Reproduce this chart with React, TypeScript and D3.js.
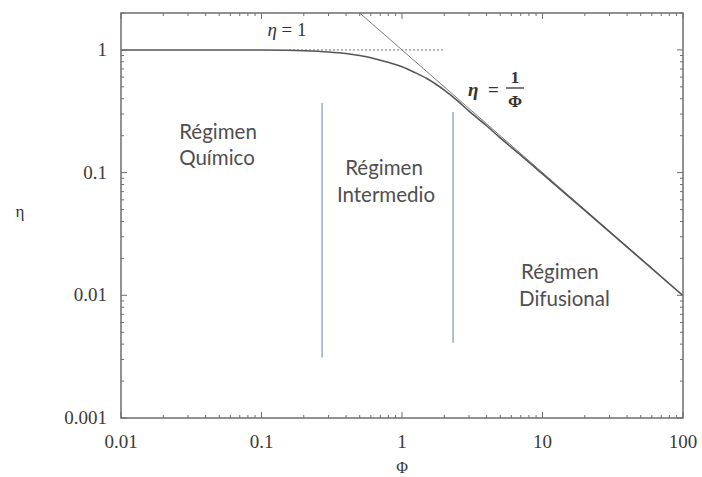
import React from "react";
import * as d3 from "d3";

// Curve η(Φ)
const curvePhi = [0.01, 0.05, 0.1, 0.15, 0.2, 0.3, 0.4, 0.5, 0.6, 0.7, 0.85, 1, 1.25, 1.5, 2, 2.5, 3, 4, 5, 7, 10, 20, 50, 100];
const curveEta = [1, 1, 0.998, 0.993, 0.985, 0.963, 0.935, 0.9, 0.865, 0.825, 0.775, 0.73, 0.65, 0.585, 0.47, 0.383, 0.317, 0.241, 0.192, 0.139, 0.0975, 0.0493, 0.0198, 0.00992];

// asymptote η = 1/Φ
const asymPhi = [0.5, 100];
const asymEta = [2, 0.01];

// dashed η = 1
const unityPhi = [0.157, 2.02];
const unityEta = [1, 1];

// regime boundaries
const boundPhi = [0.27, 2.31];
const boundTop = [0.37, 0.312];
const boundBottom = [0.0031, 0.0041];

const xTicks = [0.01, 0.1, 1, 10, 100];
const xTickLabels = ["0.01", "0.1", "1", "10", "100"];
const yTicks = [0.001, 0.01, 0.1, 1];
const yTickLabels = ["0.001", "0.01", "0.1", "1"];

const W = 702, H = 477;
const L = 121, R = 683, T = 13, B = 418;

export default function App() {
  const x = d3.scaleLog().domain([0.01, 100]).range([L, R]);
  const y = d3.scaleLog().domain([0.001, 2]).range([B, T]);

  const mk = () => d3.line<[number, number]>().x(d => x(d[0])).y(d => y(d[1]));
  const curve = mk().curve(d3.curveMonotoneX)(curvePhi.map((p, i) => [p, curveEta[i]]) as [number, number][]) || "";
  const asym = mk()(asymPhi.map((p, i) => [p, asymEta[i]]) as [number, number][]) || "";
  const unity = mk()(unityPhi.map((p, i) => [p, unityEta[i]]) as [number, number][]) || "";

  // minor ticks
  const xMinor: number[] = [];
  for (let e = -2; e < 2; e++) for (let m = 2; m <= 9; m++) xMinor.push(m * Math.pow(10, e));
  const yMinor: number[] = [];
  for (let e = -3; e < 1; e++) for (let m = 2; m <= 9; m++) { const v = m * Math.pow(10, e); if (v <= 2) yMinor.push(v); }

  const axisColor = "#6e6e6e";
  const serif = "'Liberation Serif', 'DejaVu Serif', serif";
  const sans = "Lato, 'Open Sans', sans-serif";
  const textColor = "#4f4f4f";
  const fs = 20.5;

  return (
    <div style={{ position: "absolute", left: 0, top: 0 }}>
      <svg width={W} height={H} style={{ display: "block", background: "#fff" }}>
        <defs>
          <clipPath id="plot"><rect x={L} y={T} width={R - L} height={B - T} /></clipPath>
        </defs>
        {/* boundaries */}
        {boundPhi.map((p, i) => (
          <line key={"b" + i} x1={x(p)} x2={x(p)} y1={y(boundTop[i])} y2={y(boundBottom[i])} stroke="#8ea6c6" strokeWidth={1.4} />
        ))}
        <g clipPath="url(#plot)">
          <path d={asym} fill="none" stroke="#7a7a7a" strokeWidth={1} />
          <path d={unity} fill="none" stroke="#777" strokeWidth={1} strokeDasharray="2,2" />
          <path d={curve} fill="none" stroke="#555" strokeWidth={1.6} />
        </g>
        {/* frame */}
        <rect x={L} y={T} width={R - L} height={B - T} fill="none" stroke={axisColor} strokeWidth={1.5} />
        {/* x ticks */}
        {xTicks.map(v => (
          <g key={"xt" + v}>
            <line x1={x(v)} x2={x(v)} y1={B} y2={B - 6} stroke={axisColor} />
            <line x1={x(v)} x2={x(v)} y1={T} y2={T + 6} stroke={axisColor} />
          </g>
        ))}
        {xMinor.map(v => (
          <g key={"xm" + v}>
            <line x1={x(v)} x2={x(v)} y1={B} y2={B - 3} stroke={axisColor} />
            <line x1={x(v)} x2={x(v)} y1={T} y2={T + 3} stroke={axisColor} />
          </g>
        ))}
        {yTicks.map(v => (
          <g key={"yt" + v}>
            <line x1={L} x2={L + 6} y1={y(v)} y2={y(v)} stroke={axisColor} />
            <line x1={R} x2={R - 6} y1={y(v)} y2={y(v)} stroke={axisColor} />
          </g>
        ))}
        {yMinor.map(v => (
          <g key={"ym" + v}>
            <line x1={L} x2={L + 3} y1={y(v)} y2={y(v)} stroke={axisColor} />
            <line x1={R} x2={R - 3} y1={y(v)} y2={y(v)} stroke={axisColor} />
          </g>
        ))}
        {/* tick labels */}
        {xTicks.map((v, i) => (
          <text key={"xl" + v} x={x(v)} y={B + 30} textAnchor="middle" fontFamily={serif} fontSize={19} fill="#3a3a3a">{xTickLabels[i]}</text>
        ))}
        {yTicks.map((v, i) => (
          <text key={"yl" + v} x={L - 14} y={y(v) + 6} textAnchor="end" fontFamily={serif} fontSize={19} fill="#3a3a3a">{yTickLabels[i]}</text>
        ))}
        {/* axis titles */}
        <text x={x(1)} y={473} textAnchor="middle" fontFamily={serif} fontSize={16} fill="#333">Φ</text>
        <text x={20} y={217} textAnchor="middle" fontFamily={serif} fontSize={17} fill="#333">η</text>
        {/* annotations */}
        <text x={287} y={36} textAnchor="middle" fontFamily={serif} fontSize={19} fill="#333">
          <tspan fontStyle="italic">η</tspan> = 1
        </text>
        <text x={468} y={96} fontFamily={serif} fontSize={19} fill="#333" fontWeight="bold" fontStyle="italic">η</text>
        <text x={488} y={96} fontFamily={serif} fontSize={19} fill="#333" fontWeight="bold">=</text>
        <text x={515} y={83} textAnchor="middle" fontFamily={serif} fontSize={17} fill="#333" fontWeight="bold">1</text>
        <line x1={506} x2={524} y1={88} y2={88} stroke="#444" strokeWidth={1.4} />
        <text x={515} y={107} textAnchor="middle" fontFamily={serif} fontSize={17} fill="#333" fontWeight="bold">Φ</text>
        {/* regime labels */}
        <text x={218} y={139} textAnchor="middle" fontFamily={sans} fontSize={fs} fill={textColor}>Régimen</text>
        <text x={217} y={165} textAnchor="middle" fontFamily={sans} fontSize={fs} fill={textColor}>Químico</text>
        <text x={384} y={175} textAnchor="middle" fontFamily={sans} fontSize={fs} fill={textColor}>Régimen</text>
        <text x={386} y={202} textAnchor="middle" fontFamily={sans} fontSize={fs} fill={textColor}>Intermedio</text>
        <text x={521} y={279} textAnchor="start" fontFamily={sans} fontSize={fs} fill={textColor}>Régimen</text>
        <text x={519} y={306} textAnchor="start" fontFamily={sans} fontSize={fs} fill={textColor}>Difusional</text>
      </svg>
    </div>
  );
}
